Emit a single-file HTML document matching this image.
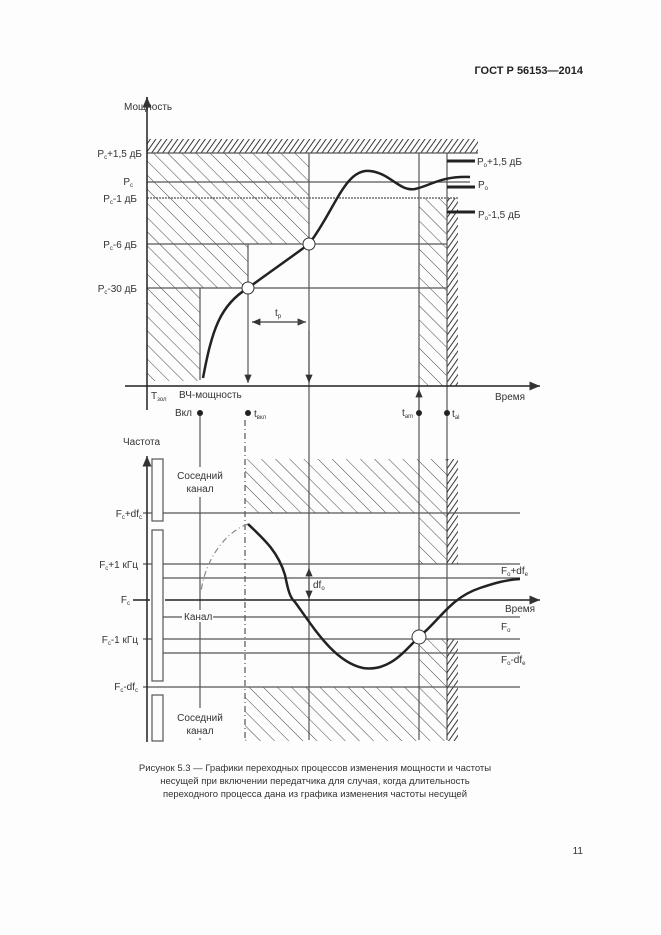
<!DOCTYPE html>
<html><head><meta charset="utf-8"><style>
html,body{margin:0;padding:0;background:#fdfdfd}
svg{display:block}
text{font-family:"Liberation Sans",sans-serif;fill:#333}
</style></head><body>
<svg width="661" height="935" viewBox="0 0 661 935" xmlns="http://www.w3.org/2000/svg">
<defs>
<pattern id="bs" patternUnits="userSpaceOnUse" width="10" height="10" patternTransform="rotate(-45)">
<line x1="0" y1="0" x2="0" y2="10" stroke="#444" stroke-width="1"/></pattern>
<pattern id="fs" patternUnits="userSpaceOnUse" width="4.5" height="4.5" patternTransform="rotate(35)">
<line x1="0" y1="0" x2="0" y2="4.5" stroke="#222" stroke-width="1.8"/></pattern>
<marker id="ar" markerWidth="8" markerHeight="8" refX="7" refY="4" orient="auto"><path d="M0,1 L7,4 L0,7z" fill="#333"/></marker>
</defs>
<text x="583" y="74" font-size="11" font-weight="bold" text-anchor="end" style="fill:#222">ГОСТ Р 56153—2014</text>

<rect x="147" y="139" width="331" height="14" fill="url(#fs)"/>
<rect x="147" y="153" width="162" height="91" fill="url(#bs)"/>
<rect x="147" y="244" width="101" height="44" fill="url(#bs)"/>
<rect x="147" y="288" width="53" height="93" fill="url(#bs)"/>
<rect x="419" y="198" width="28" height="188" fill="url(#bs)"/>
<rect x="447" y="198" width="11" height="188" fill="url(#fs)"/>
<g stroke="#555" stroke-width="1.2" fill="none">
<line x1="147" y1="153" x2="478" y2="153"/>
<line x1="147" y1="182" x2="470" y2="182"/>
<line x1="147" y1="198" x2="458" y2="198" stroke-dasharray="2,1"/>
<line x1="147" y1="244" x2="447" y2="244"/>
<line x1="147" y1="288" x2="447" y2="288"/>
<line x1="200" y1="288" x2="200" y2="380"/>
<line x1="248" y1="244" x2="248" y2="288"/>
<line x1="309" y1="153" x2="309" y2="740"/>
<line x1="419" y1="153" x2="419" y2="740"/>
<line x1="447" y1="153" x2="447" y2="740"/>
<line x1="248" y1="288" x2="248" y2="383" marker-end="url(#ar)"/>
<line x1="309" y1="330" x2="309" y2="383" marker-end="url(#ar)"/>
<line x1="419" y1="410" x2="419" y2="389" marker-end="url(#ar)"/>
<line x1="252" y1="322" x2="306" y2="322" marker-end="url(#ar)"/>
<line x1="306" y1="322" x2="252" y2="322" marker-end="url(#ar)"/>
<line x1="245" y1="420" x2="245" y2="740" stroke-dasharray="6,3,1,3"/>
<line x1="200" y1="410" x2="200" y2="467"/>
<line x1="200" y1="497" x2="200" y2="610"/>
<line x1="200" y1="622" x2="200" y2="708"/>
<line x1="200" y1="738" x2="200" y2="740"/>
</g>
<g stroke="#222" stroke-width="1.5" fill="none">
<line x1="147" y1="97" x2="147" y2="410"/>
<line x1="125" y1="386" x2="540" y2="386" marker-end="url(#ar)"/>
<line x1="147" y1="110" x2="147" y2="97" marker-end="url(#ar)"/>
</g>
<g stroke="#222" stroke-width="3">
<line x1="447" y1="161" x2="475" y2="161"/>
<line x1="447" y1="187" x2="475" y2="187"/>
<line x1="447" y1="212" x2="475" y2="212"/>
</g>
<path d="M203,378 C212,330 220,305 248,288 C270,272 290,258 309,244 C335,210 345,168 370,171 C390,173 400,192 415,189 C430,186 440,176 470,177" stroke="#222" stroke-width="2.5" fill="none"/>
<circle cx="248" cy="288" r="6" fill="#fff" stroke="#333"/>
<circle cx="309" cy="244" r="6" fill="#fff" stroke="#333"/>
<g font-size="10">
<text x="124" y="110">Мощность</text>
<text x="142" y="157" text-anchor="end">P<tspan font-size="6" dy="2">c</tspan><tspan dy="-2">+1,5 дБ</tspan></text>
<text x="133" y="185" text-anchor="end">P<tspan font-size="6" dy="2">c</tspan></text>
<text x="137" y="202" text-anchor="end">P<tspan font-size="6" dy="2">c</tspan><tspan dy="-2">-1 дБ</tspan></text>
<text x="137" y="248" text-anchor="end">P<tspan font-size="6" dy="2">c</tspan><tspan dy="-2">-6 дБ</tspan></text>
<text x="137" y="292" text-anchor="end">P<tspan font-size="6" dy="2">c</tspan><tspan dy="-2">-30 дБ</tspan></text>
<text x="477" y="165">P<tspan font-size="6" dy="2">o</tspan><tspan dy="-2">+1,5 дБ</tspan></text>
<text x="478" y="188">P<tspan font-size="6" dy="2">o</tspan></text>
<text x="478" y="218">P<tspan font-size="6" dy="2">o</tspan><tspan dy="-2">-1,5 дБ</tspan></text>
<text x="275" y="316">t<tspan font-size="6" dy="2">p</tspan></text>
<text x="495" y="400">Время</text>
<text x="151" y="399">T<tspan font-size="6" dy="2">зол</tspan></text>
<text x="179" y="398">ВЧ-мощность</text>
<text x="175" y="416">Вкл</text>
<text x="254" y="417">t<tspan font-size="6" dy="2">вкл</tspan></text>
<text x="402" y="416">t<tspan font-size="6" dy="2">am</tspan></text>
<text x="452" y="417">t<tspan font-size="6" dy="2">al</tspan></text>
</g>
<g fill="#222">
<circle cx="200" cy="413" r="3"/><circle cx="248" cy="413" r="3"/>
<circle cx="419" cy="413" r="3"/><circle cx="447" cy="413" r="3"/>
</g>

<rect x="245" y="459" width="202" height="54" fill="url(#bs)"/>
<rect x="419" y="513" width="28" height="51" fill="url(#bs)"/>
<rect x="447" y="459" width="11" height="105" fill="url(#fs)"/>
<rect x="245" y="687" width="202" height="54" fill="url(#bs)"/>
<rect x="419" y="639" width="28" height="48" fill="url(#bs)"/>
<rect x="447" y="639" width="11" height="102" fill="url(#fs)"/>
<g stroke="#555" stroke-width="1.2" fill="none">
<line x1="143" y1="513" x2="520" y2="513"/>
<line x1="143" y1="564" x2="520" y2="564"/>
<line x1="163" y1="578" x2="520" y2="578"/>
<line x1="163" y1="617" x2="182" y2="617"/>
<line x1="213" y1="617" x2="520" y2="617"/>
<line x1="143" y1="639" x2="520" y2="639"/>
<line x1="163" y1="653" x2="520" y2="653"/>
<line x1="143" y1="687" x2="520" y2="687"/>
<rect x="152" y="459" width="11" height="62" fill="#fdfdfd"/>
<rect x="152" y="530" width="11" height="151" fill="#fdfdfd"/>
<rect x="152" y="695" width="11" height="46" fill="#fdfdfd"/>
<path d="M248,524 C225,532 205,560 201,592" stroke-dasharray="6,3,1,3" stroke="#888"/>
<line x1="309" y1="585" x2="309" y2="568" marker-end="url(#ar)"/>
<line x1="309" y1="585" x2="309" y2="599" marker-end="url(#ar)"/>
</g>
<g stroke="#222" stroke-width="1.5" fill="none">
<line x1="147" y1="742" x2="147" y2="456" marker-end="url(#ar)"/>
<line x1="133" y1="600" x2="150" y2="600"/>
<line x1="165" y1="600" x2="540" y2="600" marker-end="url(#ar)"/>
</g>
<path d="M248,524 C265,540 278,552 285,575 C288,590 290,598 295,602 C315,630 335,662 363,668 C390,672 405,650 419,637 C440,620 450,598 480,588 C495,583 505,580 520,579" stroke="#222" stroke-width="2.5" fill="none"/>
<circle cx="419" cy="637" r="7" fill="#fff" stroke="#333"/>
<g font-size="10">
<text x="123" y="445">Частота</text>
<text x="200" y="479" text-anchor="middle">Соседний</text>
<text x="200" y="492" text-anchor="middle">канал</text>
<text x="200" y="721" text-anchor="middle">Соседний</text>
<text x="200" y="734" text-anchor="middle">канал</text>
<text x="184" y="620">Канал</text>
<text x="142" y="517" text-anchor="end">F<tspan font-size="6" dy="2">c</tspan><tspan dy="-2">+df</tspan><tspan font-size="6" dy="2">c</tspan></text>
<text x="138" y="568" text-anchor="end">F<tspan font-size="6" dy="2">c</tspan><tspan dy="-2">+1 кГц</tspan></text>
<text x="130" y="603" text-anchor="end">F<tspan font-size="6" dy="2">c</tspan></text>
<text x="138" y="643" text-anchor="end">F<tspan font-size="6" dy="2">c</tspan><tspan dy="-2">-1 кГц</tspan></text>
<text x="138" y="690" text-anchor="end">F<tspan font-size="6" dy="2">c</tspan><tspan dy="-2">-df</tspan><tspan font-size="6" dy="2">c</tspan></text>
<text x="313" y="588">df<tspan font-size="6" dy="2">o</tspan></text>
<text x="501" y="574">F<tspan font-size="6" dy="2">o</tspan><tspan dy="-2">+df</tspan><tspan font-size="6" dy="2">e</tspan></text>
<text x="505" y="612">Время</text>
<text x="501" y="630">F<tspan font-size="6" dy="2">o</tspan></text>
<text x="501" y="663">F<tspan font-size="6" dy="2">o</tspan><tspan dy="-2">-df</tspan><tspan font-size="6" dy="2">e</tspan></text>
</g>
<g font-size="9.5" text-anchor="middle">
<text x="315" y="771">Рисунок 5.3 — Графики переходных процессов изменения мощности и частоты</text>
<text x="315" y="784">несущей при включении передатчика для случая, когда длительность</text>
<text x="315" y="797">переходного процесса дана из графика изменения частоты несущей</text>
</g>
<text x="583" y="854" font-size="10" text-anchor="end">11</text>
</svg>
</body></html>
